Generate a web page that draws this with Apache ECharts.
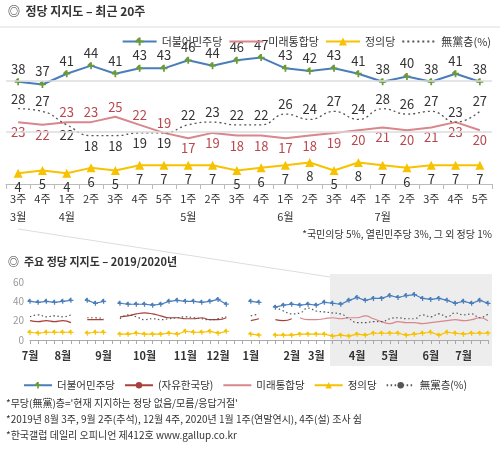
<!DOCTYPE html>
<html><head><meta charset="utf-8">
<script src="https://cdn.jsdelivr.net/npm/echarts@6/dist/echarts.min.js"></script>
<style>body{margin:0;background:#fff}#c{width:500px;height:452px}</style></head>
<body><div id="c"></div>
<script>
// ---- top chart data (최근 20주) ----
const weeks20 = ['3주\n3월','4주','1주\n4월','2주','3주','4주','5주','1주\n5월','2주','3주','4주','1주\n6월','2주','3주','4주','1주\n7월','2주','3주','4주','5주'];
const minjoo20 = [38,37,41,44,41,43,43,46,44,46,47,43,42,43,41,38,40,38,41,38];
const mirae20  = [23,22,23,23,25,22,19,17,19,18,18,17,18,19,20,21,20,21,23,20];
const justice20= [4,5,4,6,5,7,7,7,7,5,6,7,8,5,8,7,6,7,7,7];
const none20   = [28,27,22,18,18,19,19,22,23,22,22,26,24,27,24,28,26,27,23,27];
const miraeLabelBelow = [0,1,7,8,9,10,11,12,13,14,15,16,17,18,19];
const noneLabelBelow = [2,3,4,5,6];

// ---- bottom chart data (2019/2020년, 57 weeks) ----
const monthLabels = {0:'7월',4:'8월',9:'9월',14:'10월',19:'11월',23:'12월',27:'1월',32:'2월',35:'3월',40:'4월',44:'5월',49:'6월',53:'7월'};
const N = 57;
const minjooEarly = [40,39,40,39,40,41,null,41,38,40,null,38,37,37,37,36,37,40,41,40,40,39,40,42,37,null,null,40,39,null,34,36,37,36,37,36,39];
const libertyEarly= [20,19,20,19,20,18,null,21,21,21,null,24,25,27,28,27,25,23,23,22,22,23,21,21,23,null,null,20,22,null,21,20,22];
const miraeEarly  = [null,null,null,null,null,null,null,null,null,null,null,null,null,null,null,null,null,null,null,null,null,null,null,null,null,null,null,null,null,null,null,null,null,23,21,21,22];
const justiceEarly= [8,7,8,8,8,8,null,7,8,8,null,6,6,7,6,6,6,7,6,9,8,8,9,7,9,null,null,6,5,null,5,5,5,6,6,6,6];
const noneEarly   = [24,26,24,25,24,26,null,23,23,22,null,22,26,24,21,22,21,22,23,24,23,22,21,22,24,null,null,25,27,null,34,30,27,28,33,30,29];

const cats = Array.from({length:N},(_,i)=>monthLabels[i]||'');
const full = (early, recent) => early.concat(recent ? recent : []).concat(Array(Math.max(0,N-early.length-(recent?recent.length:0))).fill(null));

const C = {blue:'#4a7ebb', pink:'#d9868c', dred:'#a8403c', yel:'#f7c200', gray:'#555'};
const lab = (pos,color)=>({show:true,position:pos,color:color,fontSize:13,fontFamily:'Noto Sans CJK KR',distance:3});
const plus = 'path://M-1,-4H1V-1H4V1H1V4H-1V1H-4V-1H-4Z';
const hidden = {symbol:'circle',symbolSize:1,showSymbol:true,itemStyle:{color:'rgba(0,0,0,0)'}};

const topSeries = [
 {name:'더불어민주당',type:'line',data:minjoo20,color:C.blue,lineStyle:{width:2,color:C.blue},symbol:plus,symbolSize:7,itemStyle:{color:'#6a9a3a'},label:lab('top','#333')},
 {name:'미래통합당',type:'line',data:mirae20.map((v,i)=>({value:v,label:{position:miraeLabelBelow.includes(i)?'bottom':'top'}})),lineStyle:{width:2,color:C.pink},...hidden,label:lab('top','#b8474e')},
 {name:'정의당',type:'line',data:justice20,color:C.yel,lineStyle:{width:2,color:C.yel},symbol:'triangle',symbolSize:9,label:lab('bottom','#333'),
  markLine:{silent:true,symbol:'none',label:{show:false},lineStyle:{color:'#ddd',type:'solid',width:1.5},data:[{yAxis:19.5},{yAxis:38.5}]}},
 {name:'無黨층(%)',type:'line',data:none20.map((v,i)=>({value:v,label:{position:noneLabelBelow.includes(i)?'bottom':'top'}})),lineStyle:{width:1.3,type:[2,3],color:C.gray},...hidden,smooth:true,label:lab('top','#333')}
];
topSeries.forEach(s=>{s.xAxisIndex=0;s.yAxisIndex=0;});
const sm = {symbol:plus,symbolSize:5};
const botSeries = [
 {name:'더불어민주당',type:'line',data:full(minjooEarly,minjoo20),color:C.blue,lineStyle:{width:1.2},...sm},
 {name:'(자유한국당)',type:'line',data:full(libertyEarly),color:C.dred,lineStyle:{width:1.2},symbol:'none',smooth:true},
 {name:'미래통합당',type:'line',data:full(miraeEarly,mirae20),color:C.pink,lineStyle:{width:1.2,color:C.pink},symbol:'none',smooth:true},
 {name:'정의당',type:'line',data:full(justiceEarly,justice20),color:C.yel,lineStyle:{width:1.2},...sm},
 {name:'無黨층(%) ',type:'line',data:full(noneEarly,none20),color:C.gray,lineStyle:{width:1.2,type:[1.5,2.5]},symbol:'none',smooth:true}
];
botSeries.forEach(s=>{s.xAxisIndex=1;s.yAxisIndex=1;});

const tf = {fontFamily:'Noto Sans CJK KR'};
const chart = echarts.init(document.getElementById('c'));
chart.setOption({
 animation:false,
 textStyle:tf,
 graphic:[
  {type:'text',left:8,top:5,style:{text:'◎  정당 지지도 – 최근 20주',font:'bold 12px "Noto Sans CJK KR"',fill:'#333'}},
  {type:'line',shape:{x1:0,y1:27,x2:500,y2:27},style:{stroke:'#ddd',lineWidth:1}},
  {type:'text',right:8,top:229,style:{text:'*국민의당 5%, 열린민주당 3%, 그 외 정당 1%',font:'10px "Noto Sans CJK KR"',fill:'#333'}},
  {type:'line',shape:{x1:18,y1:229,x2:330,y2:277},style:{stroke:'#ddd',lineWidth:1}},
  {type:'rect',shape:{x:330,y:274,width:162,height:92},style:{fill:'#ededed'},z:-10},
  {type:'text',left:8,top:256,style:{text:'◎  주요 정당 지지도 – 2019/2020년',font:'bold 11px "Noto Sans CJK KR"',fill:'#333'}},
  {type:'text',left:6,top:398,style:{text:'*무당(無黨)층=\'현재 지지하는 정당 없음/모름/응답거절\'',font:'10px "Noto Sans CJK KR"',fill:'#333'}},
  {type:'text',left:6,top:414,style:{text:'*2019년 8월 3주, 9월 2주(추석), 12월 4주, 2020년 1월 1주(연말연시), 4주(설) 조사 쉼',font:'10px "Noto Sans CJK KR"',fill:'#333'}},
  {type:'text',left:6,top:430,style:{text:'*한국갤럽 데일리 오피니언 제412호 www.gallup.co.kr',font:'10px "Noto Sans CJK KR"',fill:'#333'}}
 ],
 legend:[
  {data:['더불어민주당','미래통합당','정의당','無黨층(%)'],right:4,top:31,itemWidth:34,itemHeight:10,itemGap:6,textStyle:{fontSize:11,color:'#333',...tf},selectedMode:false},
  {data:['더불어민주당','(자유한국당)','미래통합당','정의당','無黨층(%) '],left:18,top:375,itemWidth:28,itemHeight:8,itemGap:9,textStyle:{fontSize:10.5,color:'#333',...tf},selectedMode:false}
 ],
 grid:[{left:6,right:8,top:28,bottom:268},{left:30,right:12,top:282,bottom:112}],
 xAxis:[
  {gridIndex:0,type:'category',data:weeks20,boundaryGap:true,axisLine:{lineStyle:{color:'#bbb'}},axisTick:{show:true,length:5,lineStyle:{color:'#bbb'}},
   axisLabel:{color:'#333',fontSize:11,lineHeight:18,margin:6,interval:0}},
  {gridIndex:1,type:'category',data:cats,boundaryGap:false,axisLine:{lineStyle:{color:'#aaa'}},axisTick:{show:true,interval:0,length:4,lineStyle:{color:'#aaa'}},
   axisLabel:{color:'#333',fontSize:11,fontWeight:'bold',interval:0,margin:10}}
 ],
 yAxis:[
  {gridIndex:0,type:'value',min:0,max:58,show:false},
  {gridIndex:1,type:'value',min:0,max:60,interval:20,axisLine:{show:false},axisTick:{show:false},splitLine:{show:false},axisLabel:{color:'#999',fontSize:10,margin:6}}
 ],
 series:topSeries.concat(botSeries)
});
</script></body></html>
